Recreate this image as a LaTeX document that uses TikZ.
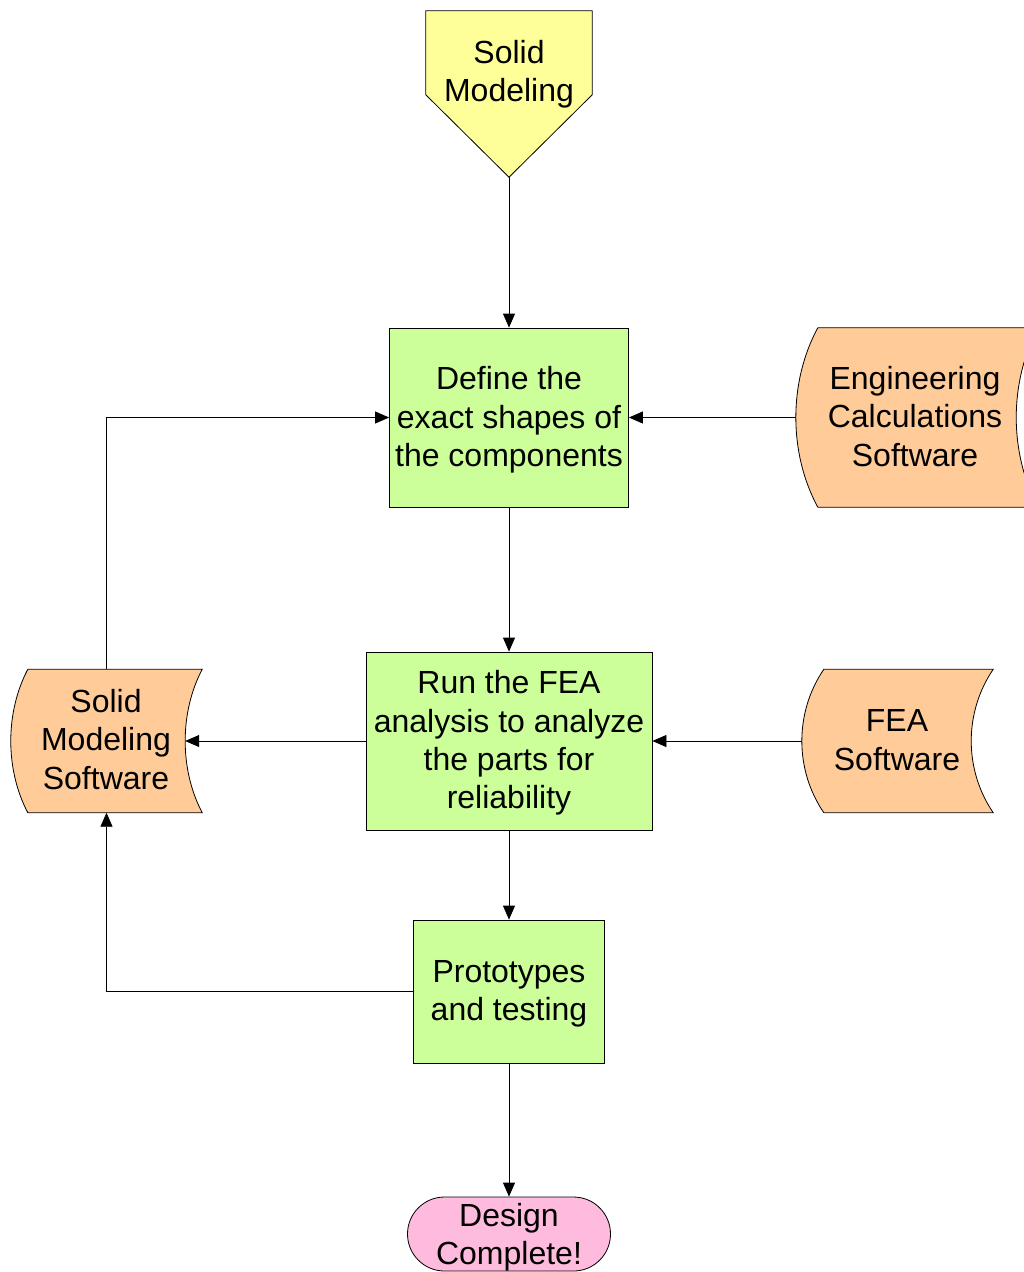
\documentclass[tikz,border=0pt]{standalone}
\usepackage{fontspec}
\setmainfont{Liberation Sans}
\usetikzlibrary{arrows.meta,calc}
\definecolor{cyellow}{HTML}{FFFF99}
\definecolor{cgreen}{HTML}{CCFF99}
\definecolor{corange}{HTML}{FFCC99}
\definecolor{cpink}{HTML}{FFBBDD}
\begin{document}
\begin{tikzpicture}[x=1pt,y=-1pt,
  txt/.style={font=\fontsize{32}{38.4}\selectfont, align=center, inner sep=0pt},
  outline/.style={draw=black, line width=0.8pt},
  procbox/.style={txt, outline, fill=cgreen, rectangle},
  ghost/.style={txt, rectangle},
  termbox/.style={txt, outline, fill=cpink, rectangle, rounded corners=37pt},
  arr/.style={draw=black, line width=0.8pt, -{Triangle[length=14pt,width=12pt]}}]
\useasboundingbox (0,0) rectangle (1024,1272);
\clip (0,0) rectangle (1024,1272);

% Solid Modeling (off-page connector)
\node[ghost, minimum width=166pt, minimum height=166pt] (sm) at (509,94) {};
\draw[outline, fill=cyellow] (sm.north west) -- (sm.north east) -- ($(sm.north east)+(0,84)$) -- (sm.south) -- ($(sm.north west)+(0,84)$) -- cycle;
\node[txt] (smt) at (509,74) {Solid\\Modeling};

% process boxes
\node[procbox, minimum width=239pt, minimum height=179pt] (def) at (509,417.5) {};
\node[txt] (deft) at (509,420) {Define the\\exact shapes of\\the components};
\node[procbox, minimum width=286pt, minimum height=178pt] (run) at (509,741) {};
\node[txt] (runt) at (509,743) {Run the FEA\\analysis to analyze\\the parts for\\reliability};
\node[procbox, minimum width=191pt, minimum height=143pt] (proto) at (509,991.5) {};
\node[txt] (protot) at (509,994) {Prototypes\\and testing};
\node[termbox, minimum width=203pt, minimum height=74pt] (done) at (509,1234) {};
\node[txt] (donet) at (509,1237) {Design\\Complete!};

% stored data shapes
% eng: L=796, R=1038, T=328, B=507, b=22
\node[ghost, minimum width=242pt, minimum height=179pt] (eng) at (917,417.5) {};
\draw[outline, fill=corange] ($(eng.north west)+(22,0)$) -- (eng.north east)
  .. controls ($(eng.north east)+(-29.3,54)$) and ($(eng.south east)+(-29.3,-54)$) .. (eng.south east)
  -- ($(eng.south west)+(22,0)$)
  .. controls ($(eng.south west)+(-7.3,-54)$) and ($(eng.north west)+(-7.3,54)$) .. ($(eng.north west)+(22,0)$) -- cycle;
\node[txt] (engt) at (915,416.5) {Engineering\\Calculations\\Software};

% fea software: L=802, R=993, T=669, B=812, b=22
\node[ghost, minimum width=191pt, minimum height=143pt] (feas) at (897.5,741) {};
\draw[outline, fill=corange] ($(feas.north west)+(22,0)$) -- (feas.north east)
  .. controls ($(feas.north east)+(-29.3,43)$) and ($(feas.south east)+(-29.3,-43)$) .. (feas.south east)
  -- ($(feas.south west)+(22,0)$)
  .. controls ($(feas.south west)+(-7.3,-43)$) and ($(feas.north west)+(-7.3,43)$) .. ($(feas.north west)+(22,0)$) -- cycle;
\node[txt] (feast) at (897,740) {FEA\\Software};

% solid modeling software: L=11, R=202, T=669, B=812, b=17
\node[ghost, minimum width=191pt, minimum height=143pt] (sms) at (106.5,741) {};
\draw[outline, fill=corange] ($(sms.north west)+(17,0)$) -- (sms.north east)
  .. controls ($(sms.north east)+(-22.7,43)$) and ($(sms.south east)+(-22.7,-43)$) .. (sms.south east)
  -- ($(sms.south west)+(17,0)$)
  .. controls ($(sms.south west)+(-5.7,-43)$) and ($(sms.north west)+(-5.7,43)$) .. ($(sms.north west)+(17,0)$) -- cycle;
\node[txt] (smst) at (106,739.5) {Solid\\Modeling\\Software};
\coordinate (smsin) at ($(sms.east)+(-17,0)$);

% connectors
\draw[arr] (sm.south) -- (def.north);
\draw[arr] (def.south) -- (run.north);
\draw[arr] (run.south) -- (proto.north);
\draw[arr] (proto.south) -- (done.north);
\draw[arr] (eng.west) -- (def.east);
\draw[arr] (feas.west) -- (run.east);
\draw[arr] (run.west) -- (smsin);
\draw[arr] (sms.north) |- (def.west);
\draw[arr] (proto.west) -| (sms.south);
\end{tikzpicture}
\end{document}
